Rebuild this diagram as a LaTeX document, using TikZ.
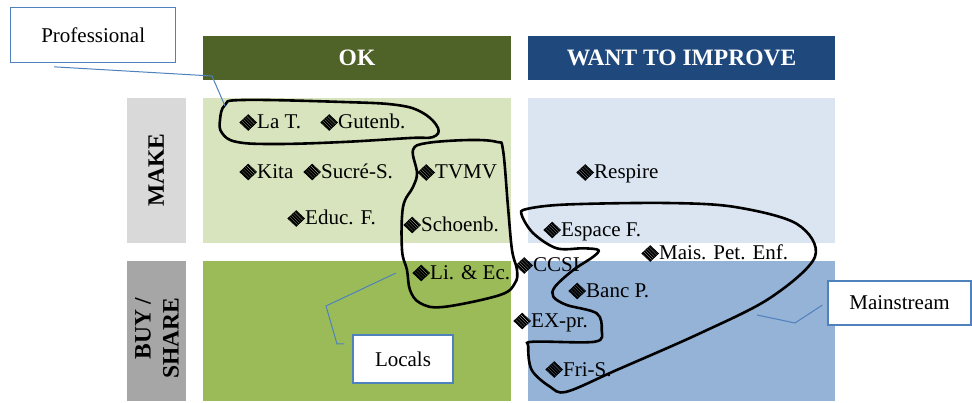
\documentclass[tikz,border=0pt]{standalone}
\usepackage{fontspec}
\setmainfont{Liberation Serif}
\usetikzlibrary{shapes.geometric,calc}
\definecolor{okhead}{HTML}{4F6228}
\definecolor{wanthead}{HTML}{1F497D}
\definecolor{lgreen}{HTML}{D7E4BD}
\definecolor{dgreen}{HTML}{9BBB59}
\definecolor{lblue}{HTML}{DBE5F1}
\definecolor{mblue}{HTML}{95B3D7}
\definecolor{grayA}{HTML}{D9D9D9}
\definecolor{grayB}{HTML}{A6A6A6}
\definecolor{calloutc}{HTML}{4F81BD}
\newcommand\myBody{\fontsize{21}{25}\selectfont}
\newcommand\myHead{\fontsize{23.5}{28}\selectfont\bfseries}
\tikzset{
  region/.style={fill=#1, draw=none, inner sep=0pt},
  head/.style={fill=#1, draw=none, inner sep=0pt, text=white, font=\myHead},
  side/.style={fill=#1, draw=none, inner sep=0pt},
  sidetext/.style={rotate=90, inner sep=0pt, font=\myHead, align=right},
  dmd/.style={diamond, minimum width=17pt, minimum height=16pt, inner sep=0pt,
    draw=black, line width=0.6pt,
    path picture={\foreach \k in {-16,-12.8,...,16}
      \draw[line width=1.9pt] ($(path picture bounding box.center)+(\k pt,0pt)+(-10pt,10pt)$) -- ++(20pt,-20pt);}},
  itm/.style={anchor=base west, inner sep=0pt, font=\myBody, text height=15pt, text depth=2pt,
    label={[dmd, label distance=0pt]west:{}}},
  blob/.style={draw=black, line width=2.6pt},
  callbox/.style={draw=calloutc, line width=1.1pt, fill=white, inner sep=0pt, font=\myBody},
  callline/.style={draw=calloutc, line width=1pt},
}
\begin{document}
\begin{tikzpicture}[x=1pt,y=-1pt]
\useasboundingbox (0,0) rectangle (972,403);
% headers
\node[head=okhead, minimum width=308pt, minimum height=44pt] (hok) at (357,58) {OK};
\node[head=wanthead, minimum width=307pt, minimum height=44pt] (hwant) at (681.5,58) {WANT TO IMPROVE};
% side labels
\node[side=grayA, minimum width=59pt, minimum height=145pt] (smake) at (156.5,170.5) {};
\node[side=grayB, minimum width=59pt, minimum height=140pt] (sbuy) at (156.5,331) {};
\node[sidetext] (tmake) at (156,170) {MAKE};
\node[sidetext] (tbuy) at (157,338) {BUY /\\SHARE};
% regions
\node[region=lgreen, minimum width=308pt, minimum height=145pt] (rmo) at (357,170.5) {};
\node[region=dgreen, minimum width=308pt, minimum height=140pt] (rbo) at (357,331) {};
\node[region=lblue, minimum width=307pt, minimum height=145pt] (rmw) at (681.5,170.5) {};
\node[region=mblue, minimum width=307pt, minimum height=140pt] (rbw) at (681.5,331) {};
% blobs
\draw[blob] plot[smooth cycle, tension=0.65] coordinates {
  (225,105) (243,100) (343,102) (397,105) (423,113) (438,128) (433,137)
  (410,138) (343,142) (277,144) (237,142) (222,133) (220,120)};
\draw[blob] plot[smooth cycle, tension=0.6] coordinates {
  (413,150) (427,143) (470,140) (497,142) (503,150) (508,207) (512,250)
  (517,270) (515,283) (500,295) (443,307) (420,303) (410,290) (407,270)
  (402,250) (403,207) (413,187) (417,173)};
\draw[blob] plot[smooth cycle, tension=0.55] coordinates {
  (521.7,215) (533.3,233.3) (556.7,248.3) (583.3,248.3) (598.3,250)
  (593.3,256.7) (573.3,270) (555,286.7) (553.3,296.7) (566.7,305)
  (596.7,313.3) (601.7,330) (595,341.7) (533.3,341.7) (528.3,346.7)
  (531.7,370) (550,386.7) (566.7,391.7) (616.7,370) (700,333.3)
  (770,298) (815,256.7) (797,224) (735,207) (666.7,203)
  (566.7,204.5) (526.7,209)};
% items
\node[itm] (lat) at (257,129) {La T.};
\node[itm] (gut) at (338,129) {Gutenb.};
\node[itm] (kita) at (257,178.5) {Kita};
\node[itm] (sucre) at (321,178.5) {Sucré-S.};
\node[itm] (tvmv) at (435,179) {TVMV};
\node[itm] (educ) at (305,225) {Educ. F.};
\node[itm] (schoen) at (421,231.5) {Schoenb.};
\node[itm] (liec) at (430,279.5) {Li. \& Ec.};
\node[itm] (resp) at (594,179) {Respire};
\node[itm] (espace) at (561,236.5) {Espace F.};
\node[itm] (mais) at (659,260) {Mais. Pet. Enf.};
\node[itm] (ccsi) at (533,272) {CCSI};
\node[itm] (banc) at (586,297.5) {Banc P.};
\node[itm] (expr) at (531,327.5) {EX-pr.};
\node[itm] (fris) at (563,376) {Fri-S.};
% callouts
\node[callbox, minimum width=165pt, minimum height=54.6pt] (prof) at (93.2,35) {Professional};
\node[callbox, minimum width=100pt, minimum height=48pt] (loc) at (403,359) {Locals};
\node[callbox, minimum width=143pt, minimum height=44pt] (main) at (899.5,303) {Mainstream};
\coordinate (profend) at (225,106);
\coordinate (locend) at (396,273);
\coordinate (mainend) at (757,315);
\draw[callline] ([shift={(-39pt,-4pt)}]prof.south) -- (212,76) -- (profend);
\draw[callline] ([shift={(-8pt,15pt)}]loc.west) -- (337,344) -- (326,306) -- (locend);
\draw[callline] ([shift={(-5pt,-2pt)}]main.west) -- (795,323) -- (mainend);
\end{tikzpicture}
\end{document}
